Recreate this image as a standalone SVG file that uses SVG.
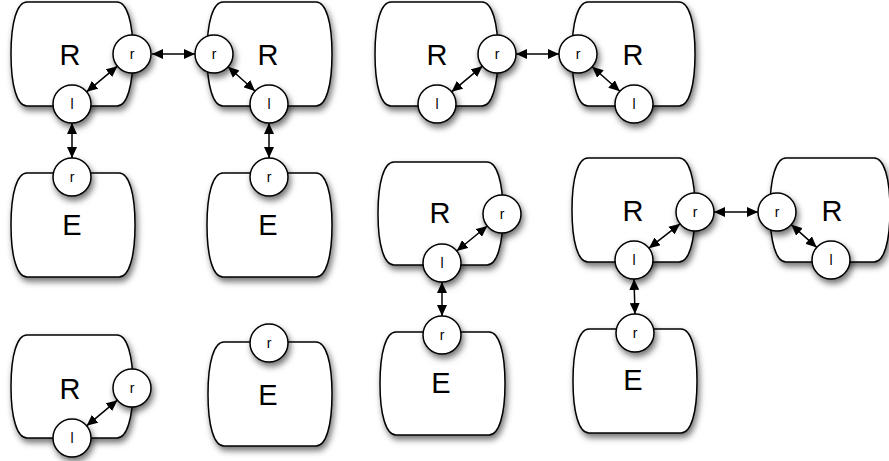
<svg xmlns="http://www.w3.org/2000/svg" width="889" height="461" viewBox="0 0 889 461">
<style>
.box{fill:#fff;stroke:#000;stroke-width:1.5;filter:url(#sh)}
.port{fill:#fff;stroke:#000;stroke-width:1.5;filter:url(#sh)}
.big{font-family:"Liberation Sans",Arial,sans-serif;font-size:29px;text-anchor:middle;fill:#000}
.small{font-family:"Liberation Sans",Arial,sans-serif;font-size:14px;text-anchor:middle;fill:#000}
.conn{stroke:#000;stroke-width:1.5;fill:none;marker-start:url(#ah);marker-end:url(#ah)}
</style>
<defs>
<filter id="sh" x="-20%" y="-20%" width="150%" height="150%">
<feDropShadow dx="2" dy="4" stdDeviation="3" flood-color="#000" flood-opacity="0.55"/>
</filter>
<marker id="ah" markerUnits="userSpaceOnUse" markerWidth="12" markerHeight="10" viewBox="0 0 12 10" refX="11" refY="5" orient="auto-start-reverse">
<path d="M0,0 L11,5 L0,10 Z" fill="#000"/>
</marker>
</defs>

<g id="A">
<path class="box" d="M27,2 H117 C127,2 133,22 133,54 C133,86 127,106 117,106 H27 C17,106 11,86 11,54 C11,22 17,2 27,2 Z"/>
<text class="big" x="70" y="65">R</text>
<circle class="port" cx="132" cy="54" r="19"/><text class="small" x="132" y="59">r</text>
<circle class="port" cx="72" cy="104" r="19"/><text class="small" x="72" y="109">l</text>
</g>
<g id="B">
<path class="box" d="M223,2 H316 C326,2 332,22 332,54 C332,86 326,106 316,106 H223 C213,106 207,86 207,54 C207,22 213,2 223,2 Z"/>
<text class="big" x="268" y="65">R</text>
<circle class="port" cx="214" cy="54" r="19"/><text class="small" x="214" y="59">r</text>
<circle class="port" cx="269" cy="104" r="19"/><text class="small" x="269" y="109">l</text>
</g>
<g id="E1">
<path class="box" d="M27,173 H119 C129,173 135,193 135,225 C135,257 129,277 119,277 H27 C17,277 11,257 11,225 C11,193 17,173 27,173 Z"/>
<text class="big" x="72" y="235">E</text>
<circle class="port" cx="72" cy="177" r="19"/><text class="small" x="72" y="182">r</text>
</g>
<g id="E2">
<path class="box" d="M223,173 H316 C326,173 332,193 332,225 C332,257 326,277 316,277 H223 C213,277 207,257 207,225 C207,193 213,173 223,173 Z"/>
<text class="big" x="268" y="235">E</text>
<circle class="port" cx="269" cy="177" r="19"/><text class="small" x="269" y="182">r</text>
</g>
<g id="K">
<path class="box" d="M27,335 H117 C127,335 133,355 133,386.5 C133,418 127,438 117,438 H27 C17,438 11,418 11,386.5 C11,355 17,335 27,335 Z"/>
<text class="big" x="70" y="399">R</text>
<circle class="port" cx="132" cy="388" r="19"/><text class="small" x="132" y="393">r</text>
<circle class="port" cx="72" cy="438" r="19"/><text class="small" x="72" y="443">l</text>
</g>
<g id="E3">
<path class="box" d="M224,342 H316 C326,342 332,362 332,394 C332,426 326,446 316,446 H224 C214,446 208,426 208,394 C208,362 214,342 224,342 Z"/>
<text class="big" x="268" y="405">E</text>
<circle class="port" cx="269" cy="343" r="19"/><text class="small" x="269" y="348">r</text>
</g>
<g id="C">
<path class="box" d="M391,2 H482 C492,2 498,22 498,54 C498,86 492,106 482,106 H391 C381,106 375,86 375,54 C375,22 381,2 391,2 Z"/>
<text class="big" x="437" y="65">R</text>
<circle class="port" cx="497" cy="54" r="19"/><text class="small" x="497" y="59">r</text>
<circle class="port" cx="437" cy="104" r="19"/><text class="small" x="437" y="109">l</text>
</g>
<g id="D">
<path class="box" d="M588,2 H679 C689,2 695,22 695,54 C695,86 689,106 679,106 H588 C578,106 572,86 572,54 C572,22 578,2 588,2 Z"/>
<text class="big" x="633" y="65">R</text>
<circle class="port" cx="578" cy="54" r="19"/><text class="small" x="578" y="59">r</text>
<circle class="port" cx="634" cy="104" r="19"/><text class="small" x="634" y="109">l</text>
</g>
<g id="F">
<path class="box" d="M394,162 H487 C497,162 503,182 503,213.5 C503,245 497,265 487,265 H394 C384,265 378,245 378,213.5 C378,182 384,162 394,162 Z"/>
<text class="big" x="440" y="223">R</text>
<circle class="port" cx="502" cy="214" r="19"/><text class="small" x="502" y="219">r</text>
<circle class="port" cx="442" cy="263" r="19"/><text class="small" x="442" y="268">l</text>
</g>
<g id="G">
<path class="box" d="M588,158 H679 C689,158 695,178 695,210 C695,242 689,262 679,262 H588 C578,262 572,242 572,210 C572,178 578,158 588,158 Z"/>
<text class="big" x="633" y="221">R</text>
<circle class="port" cx="695" cy="212" r="19"/><text class="small" x="695" y="217">r</text>
<circle class="port" cx="634" cy="260" r="19"/><text class="small" x="634" y="265">l</text>
</g>
<g id="H">
<path class="box" d="M786,158 H874 C884,158 890,178 890,210 C890,242 884,262 874,262 H786 C776,262 770,242 770,210 C770,178 776,158 786,158 Z"/>
<text class="big" x="832" y="221">R</text>
<circle class="port" cx="777" cy="212" r="19"/><text class="small" x="777" y="217">r</text>
<circle class="port" cx="831" cy="260" r="19"/><text class="small" x="831" y="265">l</text>
</g>
<g id="I">
<path class="box" d="M396,332 H489 C499,332 505,352 505,383.5 C505,415 499,435 489,435 H396 C386,435 380,415 380,383.5 C380,352 386,332 396,332 Z"/>
<text class="big" x="441" y="393">E</text>
<circle class="port" cx="442" cy="335" r="19"/><text class="small" x="442" y="340">r</text>
</g>
<g id="J">
<path class="box" d="M589,329 H681 C691,329 697,349 697,381 C697,413 691,433 681,433 H589 C579,433 573,413 573,381 C573,349 579,329 589,329 Z"/>
<text class="big" x="633" y="390">E</text>
<circle class="port" cx="635" cy="333" r="19"/><text class="small" x="635" y="338">r</text>
</g>

<g id="connectors">
<line class="conn" x1="152" y1="54" x2="195" y2="54"/>
<line class="conn" x1="86.6" y1="91.8" x2="117.4" y2="66.2"/>
<line class="conn" x1="228" y1="66.8" x2="255" y2="91"/>
<line class="conn" x1="72" y1="123" x2="72" y2="158"/>
<line class="conn" x1="269" y1="123" x2="269" y2="158"/>
<line class="conn" x1="86.6" y1="425.8" x2="117.4" y2="400.2"/>
<line class="conn" x1="451.6" y1="91.8" x2="482.4" y2="66.2"/>
<line class="conn" x1="516" y1="54" x2="559" y2="54"/>
<line class="conn" x1="592.2" y1="66.7" x2="619.8" y2="91.3"/>
<line class="conn" x1="456.7" y1="251" x2="487.3" y2="226"/>
<line class="conn" x1="442" y1="282" x2="442" y2="316"/>
<line class="conn" x1="648.9" y1="248.2" x2="680.1" y2="223.8"/>
<line class="conn" x1="714" y1="212" x2="758" y2="212"/>
<line class="conn" x1="791.2" y1="224.6" x2="816.8" y2="247.4"/>
<line class="conn" x1="634" y1="279" x2="635" y2="314"/>
</g>
</svg>
